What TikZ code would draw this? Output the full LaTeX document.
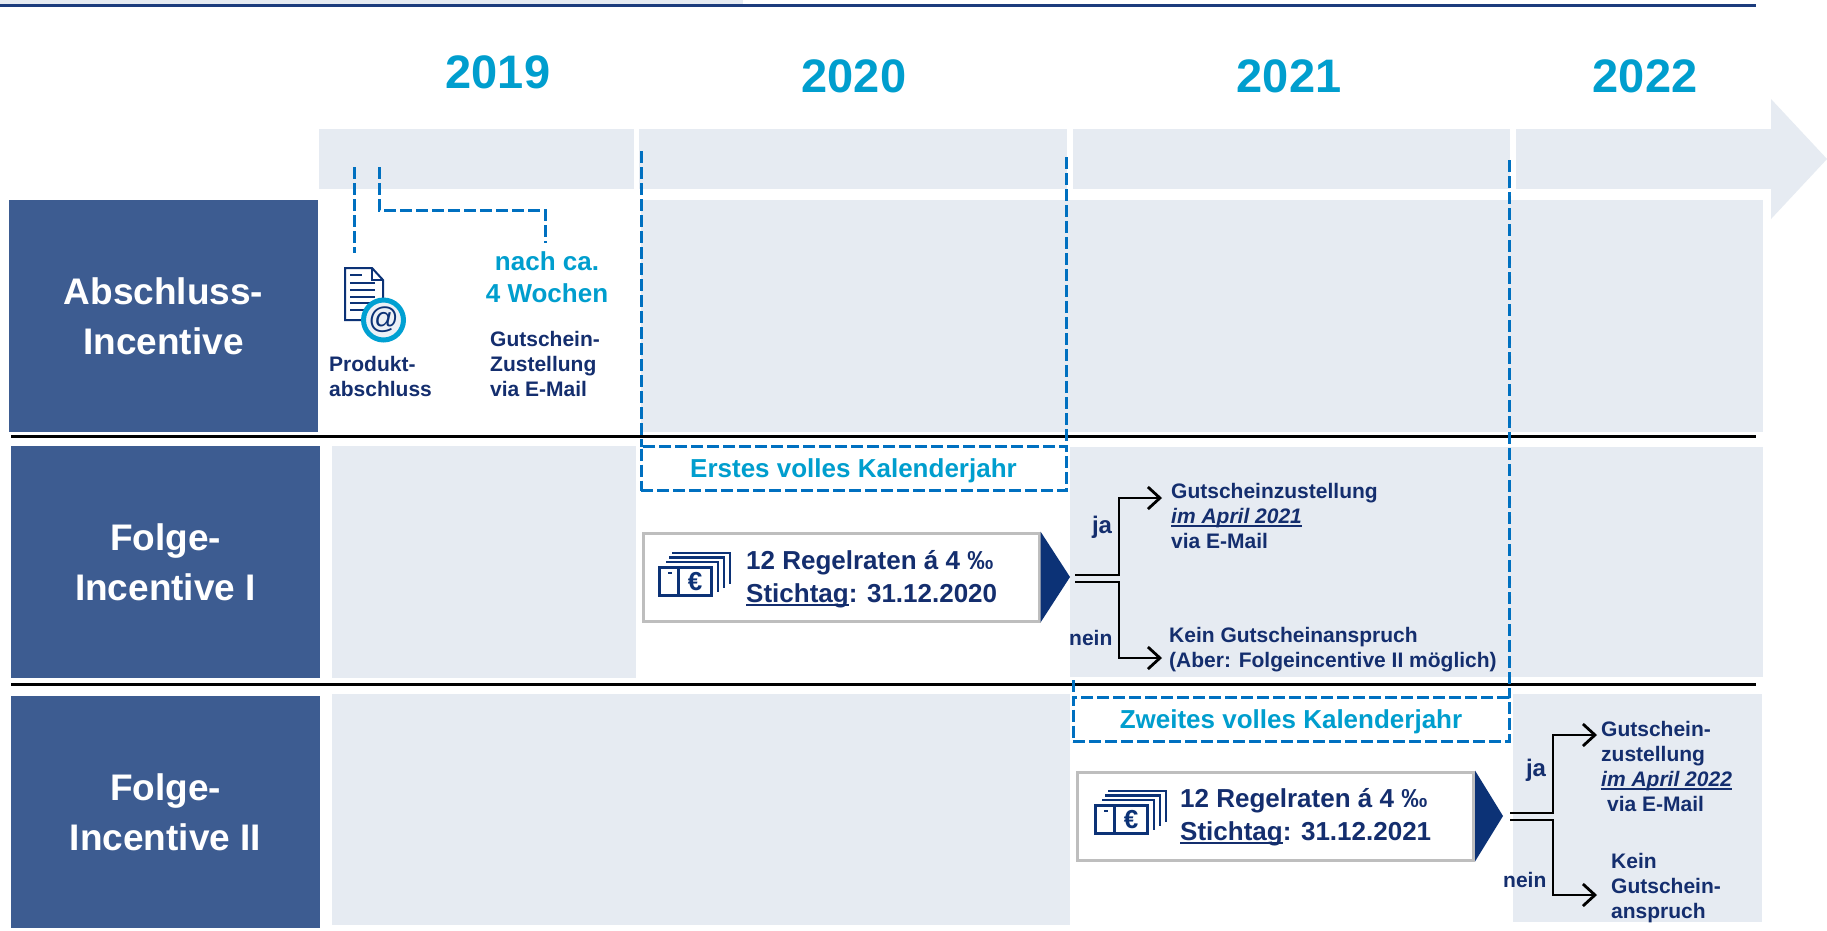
\documentclass[tikz,border=0pt]{standalone}
\usepackage{fontspec}
\setmainfont{Liberation Sans}
\usetikzlibrary{arrows.meta,calc}
\definecolor{labelblue}{RGB}{61,92,145}
\definecolor{panelgrey}{RGB}{230,235,242}
\definecolor{cyantext}{RGB}{0,158,206}
\definecolor{dashblue}{RGB}{0,112,192}
\definecolor{navytext}{RGB}{20,46,110}
\definecolor{navyarrow}{RGB}{12,50,118}
\definecolor{topnavy}{RGB}{28,60,125}
\definecolor{boxgrey}{RGB}{190,190,190}
\definecolor{ringcyan}{RGB}{0,160,210}
\definecolor{ringin}{RGB}{236,240,246}
\newsavebox\ulbox
\newcommand\ulx[1]{\sbox\ulbox{#1}\rlap{\rule[-4pt]{\wd\ulbox}{1.6pt}}\usebox\ulbox}
\newcommand\lnl[1]{\begin{tabular}[t]{@{}l@{}}#1\end{tabular}}
\newcommand\lnc[1]{\begin{tabular}[t]{@{}c@{}}#1\end{tabular}}
\newcommand\fsz[2]{\fontsize{#1}{#2}\selectfont}
\newcommand\moneyicon[3]{%
  \begin{scope}[shift={(#1,#2)}]
    \draw[iconline, line width=3pt] (0,0) rectangle (52,28);
    \draw[iconline, line width=3pt] (19,0) -- (19,28);
    \draw[iconline] (9,6) -- (13,6);
    \node[text=navyarrow, font=\bfseries\fsz{26}{26}, inner sep=0pt] (#3) at (36,14.5) {€};
    \draw[iconline] (7,-5) -- (59,-5) -- (59,25);
    \draw[iconline] (10,-9.5) -- (65,-9.5) -- (65,21);
    \draw[iconline] (13,-14) -- (71,-14) -- (71,17);
  \end{scope}}
\tikzset{
  panel/.style={fill=panelgrey, draw=none},
  lanebox/.style={fill=labelblue, draw=none, text=white, font=\bfseries\fsz{37}{50},
    align=center, inner sep=0pt, outer sep=0pt, minimum width=309pt, minimum height=232pt},
  yearlbl/.style={text=cyantext, font=\bfseries\fsz{47}{56}, inner sep=0pt,
    text height=33.5pt, text depth=0pt},
  bluedash/.style={draw=dashblue, line width=3pt, dash pattern=on 12pt off 4pt},
  periodbox/.style={bluedash, text=cyantext, font=\bfseries\fsz{26}{31}, inner sep=0pt,
    outer sep=0pt, text height=18.6pt, text depth=0pt},
  navytxt/.style={text=navytext, font=\bfseries\fsz{21}{25}, inner sep=0pt},
  cyantxt/.style={text=cyantext, font=\bfseries\fsz{26}{32}, inner sep=0pt},
  ratebox/.style={draw=boxgrey, line width=3pt, fill=white, inner sep=0pt, outer sep=0pt,
    minimum width=396pt, minimum height=88pt},
  ratetxt/.style={text=navytext, font=\bfseries\fsz{26}{33}, inner sep=0pt},
  choice/.style={draw=black, line width=2.8pt, -{Straight Barb[length=12pt,width=22pt]}},
  iconline/.style={draw=navyarrow, line width=2.5pt},
  sepline/.style={draw=black, line width=3pt}
}
\begin{document}
\begin{tikzpicture}[x=1pt, y=-1pt]
\useasboundingbox (0,0) rectangle (1827,930);
\fill[white] (0,0) rectangle (1827,930);
% top rule
\fill[panelgrey] (0,0) rectangle (743,4);
\draw[topnavy, line width=2.7pt] (0,5.3) -- (1756,5.3);
% timeline band
\fill[panelgrey] (319,129) rectangle (634,189);
\fill[panelgrey] (639,129) rectangle (1067,189);
\fill[panelgrey] (1073,129) rectangle (1510,189);
\fill[panelgrey] (1516,129) rectangle (1772,189);
\fill[panelgrey] (1771,99) -- (1827,159) -- (1771,219) -- cycle;
% years
\node[yearlbl] (y2019) at (498,72) {2019};
\node[yearlbl] (y2020) at (854,75.5) {2020};
\node[yearlbl] (y2021) at (1289,75.5) {2021};
\node[yearlbl] (y2022) at (1645,76) {2022};
% row panels
\fill[panel] (641,200) rectangle (1763,432);
\fill[panel] (332,446) rectangle (636,678);
\fill[panel] (1070,447) rectangle (1763,677);
\fill[panel] (332,694) rectangle (1070,925);
\fill[panel] (1513,694) rectangle (1762,922);
% lane labels
\node[lanebox] (lane1) at (163.5,316) {Abschluss-\\Incentive};
\node[lanebox] (lane2) at (165.5,562) {Folge-\\Incentive I};
\node[lanebox] (lane3) at (165.5,812) {Folge-\\Incentive II};
% separators
\draw[sepline] (11,436) -- (1756,436);
\draw[sepline] (11,684.5) -- (1756,684.5);
% period boxes
\node[periodbox, minimum width=425pt, minimum height=44pt] (erstes) at (853.5,468.5) {Erstes volles Kalenderjahr};
\node[periodbox, minimum width=436pt, minimum height=44pt] (zweites) at (1291,719.5) {Zweites volles Kalenderjahr};
\coordinate (v1) at (641,151);
\coordinate (v2) at (1066,157);
\coordinate (v3) at (1509,160);
\coordinate (v4) at (1073,680);
\draw[bluedash] (v1) -- (erstes.north west);
\draw[bluedash] (v2) -- (erstes.north east);
\draw[bluedash] (v3) -- (zweites.north east);
\draw[bluedash] (v4) -- (zweites.north west);
% row 1: product closing
\draw[navyarrow, line width=2pt, fill=white] (345,268) -- (372,268) -- (383,280) -- (383,320) -- (345,320) -- cycle;
\draw[navyarrow, line width=1.5pt] (372,268) -- (372,280) -- (383,280);
\foreach \yy/\xe in {275/362, 283/375, 290/375, 297/375, 303/375, 310/375}
  \draw[navyarrow, line width=2pt] (350,\yy) -- (\xe,\yy);
\node[circle, fill=ringin, draw=ringcyan, line width=5pt, minimum size=38.4pt, inner sep=0pt,
  text=navyarrow, font=\fsz{30}{30}] (docicon) at (383.5,320) {@};
\node[navytxt, anchor=base west] (prod) at (329,371.5) {\lnl{Produkt-\\abschluss}};
\node[cyantxt, anchor=base] (nach) at (547,270) {\lnc{nach ca.\\4 Wochen}};
\node[navytxt, anchor=base west] (gut1) at (490,346) {\lnl{Gutschein-\\Zustellung\\via E-Mail}};
\coordinate (d1a) at (354,167);
\coordinate (d1b) at (354,253);
\coordinate (d2a) at (379,167);
\coordinate (d2b) at (379,210);
\coordinate (d2c) at (545,243);
\draw[bluedash] (d1a) -- (d1b);
\draw[bluedash] (d2a) -- (d2b) -| (d2c);
% row 2: rate box
\node[ratebox] (rate1) at (841,577) {};
\coordinate (tip1) at (1070,577);
\fill[navyarrow] ($(rate1.north east)+(1.5,-1.5)$) -- (tip1) -- ($(rate1.south east)+(1.5,1.5)$) -- cycle;
\moneyicon{659}{567}{euro1}
\node[ratetxt, anchor=base west] (rtext1) at (746,569) {\lnl{12 Regelraten á 4 ‰\\\ulx{Stichtag}: 31.12.2020}};
\node[navytxt, anchor=base west] (ja1) at (1171,498) {\lnl{Gutscheinzustellung\\\ulx{\itshape im April 2021}\\via E-Mail}};
\node[navytxt, anchor=base west] (nein1) at (1169,642.5) {\lnl{Kein Gutscheinanspruch\\(Aber: Folgeincentive II möglich)}};
\coordinate (b1u) at (1075,575);
\coordinate (b1l) at (1075,582);
\draw[choice] (b1u) -- ++(44,0) |- ($(ja1.base west)+(-9,0)$);
\draw[choice] (b1l) -- ++(44,0) |- ($(nein1.base west)+(-7,15.5)$);
\node[text=navytext, font=\bfseries\fsz{24}{24}, inner sep=0pt, anchor=base] (jalbl1) at (1102,533) {ja};
\node[navytxt, anchor=base west] (neinlbl1) at (1069,645) {nein};
% row 3: rate box
\node[ratebox] (rate2) at (1275.5,816) {};
\coordinate (tip2) at (1503,816);
\fill[navyarrow] ($(rate2.north east)+(1.5,-1.5)$) -- (tip2) -- ($(rate2.south east)+(1.5,1.5)$) -- cycle;
\moneyicon{1095}{805}{euro2}
\node[ratetxt, anchor=base west] (rtext2) at (1180,807) {\lnl{12 Regelraten á 4 ‰\\\ulx{Stichtag}: 31.12.2021}};
\node[navytxt, anchor=base west] (ja2) at (1601,736) {\lnl{Gutschein-\\zustellung\\\ulx{\itshape im April 2022}\\\hspace*{6pt}via E-Mail}};
\node[navytxt, anchor=base west] (nein2) at (1611,868) {\lnl{Kein\\Gutschein-\\anspruch}};
\coordinate (b2u) at (1510,813);
\coordinate (b2l) at (1510,820);
\draw[choice] (b2u) -- ++(43,0) |- ($(ja2.base west)+(-4,-1)$);
\draw[choice] (b2l) -- ++(43,0) |- ($(nein2.base west)+(-14,27)$);
\node[text=navytext, font=\bfseries\fsz{24}{24}, inner sep=0pt, anchor=base] (jalbl2) at (1536,776) {ja};
\node[navytxt, anchor=base west] (neinlbl2) at (1503,887) {nein};
\end{tikzpicture}
\end{document}
